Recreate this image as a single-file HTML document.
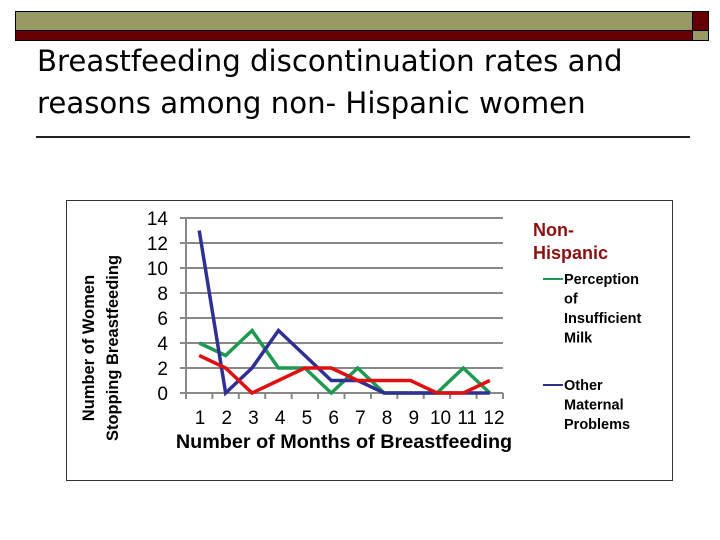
<!DOCTYPE html>
<html><head><meta charset="utf-8"><style>
body{margin:0;background:#fff;}
#root{position:relative;width:720px;height:540px;overflow:hidden;background:#fff;font-family:"Liberation Sans",sans-serif;}
.abs{position:absolute;}
</style></head><body>
<div id="root">
  <div class="abs" style="left:15px;top:11px;width:676px;height:18px;background:#999966;border:1px solid #000;"></div>
  <div class="abs" style="left:15px;top:30px;width:676px;height:9px;background:#660000;border:1px solid #000;"></div>
  <div class="abs" style="left:692px;top:11px;width:15px;height:18px;background:#660000;border:1px solid #000;"></div>
  <div class="abs" style="left:692px;top:30px;width:15px;height:9px;background:#999966;border:1px solid #000;"></div>
  <div class="abs" style="left:37px;top:40px;width:660px;font-family:'DejaVu Sans',sans-serif;font-size:29.2px;line-height:42px;color:#000;">Breastfeeding discontinuation rates and reasons among non- Hispanic women</div>
  <div class="abs" style="left:36px;top:136px;width:654px;height:2px;background:#222;"></div>
  <div class="abs" style="left:66px;top:200px;width:605px;height:279px;border:1px solid #333;"></div>
  <svg class="abs" style="left:0;top:0" width="720" height="540">
    <g id="grid"></g><g id="series"></g><g id="labels"></g>
    <text x="0" y="0" transform="translate(94,348) rotate(-90)" text-anchor="middle" font-family="Liberation Sans" font-weight="bold" font-size="16.5"><tspan x="0" dy="0">Number of Women</tspan><tspan x="0" dy="24">Stopping Breastfeeding</tspan></text>
    <text x="344" y="448" text-anchor="middle" font-family="Liberation Sans" font-weight="bold" font-size="19.8">Number of Months of Breastfeeding</text>
    <text x="533" y="236" fill="#8b1010" font-family="Liberation Sans" font-weight="bold" font-size="18"><tspan x="533">Non-</tspan><tspan x="533" dy="23">Hispanic</tspan></text>
    <g>
      <line x1="543" y1="279" x2="563" y2="279" stroke="#1e9a50" stroke-width="2"/>
      <text font-family="Liberation Sans" font-weight="bold" font-size="14.5" y="284"><tspan x="564">Perception</tspan><tspan x="564" dy="19.5">of</tspan><tspan x="564" dy="19.5">Insufficient</tspan><tspan x="564" dy="19.5">Milk</tspan></text>
    </g>
    <g>
      <line x1="543" y1="385" x2="563" y2="385" stroke="#2e3192" stroke-width="2"/>
      <text font-family="Liberation Sans" font-weight="bold" font-size="14.5" y="390"><tspan x="564">Other</tspan><tspan x="564" dy="19.5">Maternal</tspan><tspan x="564" dy="19.5">Problems</tspan></text>
    </g>
  </svg>
</div>
<script>
const months=[1,2,3,4,5,6,7,8,9,10,11,12];
const yTicks=[0,2,4,6,8,10,12,14];
const perception=[4,3,5,2,2,0,2,0,0,0,2,0];
const otherProblems=[13,0,2,5,3,1,1,0,0,0,0,0];
const redSeries=[3,2,0,1,2,2,1,1,1,0,0,1];
const NS='http://www.w3.org/2000/svg';
const x0=186,x1=503,yBot=393,yTop=218;
const cw=(x1-x0)/months.length;
function xs(i){return x0+cw*(i+0.5);}
function ys(v){return yBot-(v/14)*(yBot-yTop);}
function mk(t,a,p){const e=document.createElementNS(NS,t);for(const k in a)e.setAttribute(k,a[k]);p.appendChild(e);return e;}
const grid=document.getElementById('grid'),ser=document.getElementById('series'),lab=document.getElementById('labels');
yTicks.forEach(v=>{
  const l=mk('line',{x1:x0-6,x2:x1,y1:ys(v),y2:ys(v),stroke:'#888','stroke-width':2},grid);
  
  
  const t=mk('text',{x:168,y:ys(v)+7,'text-anchor':'end','font-family':'Liberation Sans','font-size':19},lab);
  t.textContent=v;
  
  
});
const ax=mk('line',{x1:x0,x2:x0,y1:yTop,y2:yBot+5,stroke:'#888','stroke-width':2},grid);


for(let i=0;i<=months.length;i++){
  const tk=mk('line',{x1:x0+cw*i,x2:x0+cw*i,y1:yBot,y2:yBot+6,stroke:'#888','stroke-width':2},grid);
  
  
}
months.forEach((m,i)=>{
  const t=mk('text',{x:200+(i*(494-200)/11),y:424,'text-anchor':'middle','font-family':'Liberation Sans','font-size':19},lab);
  t.textContent=m;
  
  
});
function line(vals,color,name){
  const p=mk('polyline',{points:vals.map((v,i)=>xs(i)+','+ys(v)).join(' '),fill:'none',stroke:color,'stroke-width':3.5,'stroke-linejoin':'miter'},ser);
  
  
}
line(perception,'#1e9a50','line-perception');
line(otherProblems,'#2e3192','line-other-problems');
line(redSeries,'#e01010','line-red-series');
</script>
</body></html>
